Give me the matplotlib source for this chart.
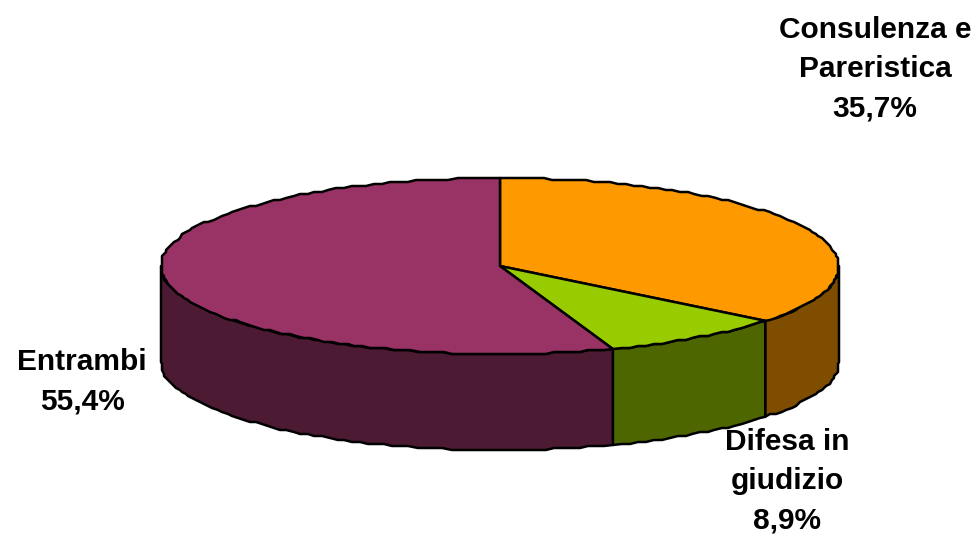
"""Three-dimensional looking pie: top ellipse plus the front wall."""
import matplotlib

matplotlib.use("Agg")
import matplotlib.pyplot as plt
import numpy as np
from matplotlib.patches import Polygon

plt.rcParams["font.family"] = ["Liberation Sans", "DejaVu Sans"]

WIDTH, HEIGHT = 978, 536
CX, CY = 500, 266
RX, RY = 339, 88
DEPTH = 96
STEP = 2  # the source has a coarse, slightly stepped outline

categories = ["Consulenza e\nPareristica", "Difesa in\ngiudizio", "Entrambi"]
values = [35.7, 8.9, 55.4]
labels = ["35,7%", "8,9%", "55,4%"]
top_colors = ["#FF9900", "#99CC00", "#993366"]
wall_colors = ["#7F4D00", "#4D6600", "#4D1A33"]
label_pos = [(875, 69), (787, 481), (82, 382)]


def rim(start, end):
    """Stepped ellipse arc, angles in radians clockwise from 12 o'clock."""
    t = np.linspace(start, end, max(int((end - start) * 40), 2))
    pts = np.column_stack([CX + RX * np.sin(t), CY - RY * np.cos(t)])
    pts[1:-1] = np.round(pts[1:-1] / STEP) * STEP
    return pts


fig = plt.figure(figsize=(WIDTH / 100, HEIGHT / 100), dpi=100)
ax = fig.add_axes([0, 0, 1, 1])
ax.set_xlim(0, WIDTH)
ax.set_ylim(HEIGHT, 0)
ax.axis("off")

edges = np.cumsum([0] + values) / sum(values) * 2 * np.pi
for start, end, wall in zip(edges[:-1], edges[1:], wall_colors):
    # wall is only visible on the front half of the ellipse
    lo, hi = max(start, np.pi / 2), min(end, 3 * np.pi / 2)
    if hi > lo:
        arc = rim(lo, hi)
        wall_pts = np.vstack([arc, (arc + [0, DEPTH])[::-1]])
        ax.add_patch(Polygon(wall_pts, closed=True, facecolor=wall,
                             edgecolor="black", linewidth=1.8, joinstyle="round"))
for start, end, top in zip(edges[:-1], edges[1:], top_colors):
    ax.add_patch(Polygon(np.vstack([[CX, CY], rim(start, end)]), closed=True,
                         facecolor=top, edgecolor="black", linewidth=1.8,
                         joinstyle="round"))

for name, pct, (x, y) in zip(categories, labels, label_pos):
    ax.text(x, y, f"{name}\n{pct}", ha="center", va="center", fontsize=21.5,
            fontweight="bold", color="black", linespacing=1.52)

fig.savefig("out.png", dpi=100)
